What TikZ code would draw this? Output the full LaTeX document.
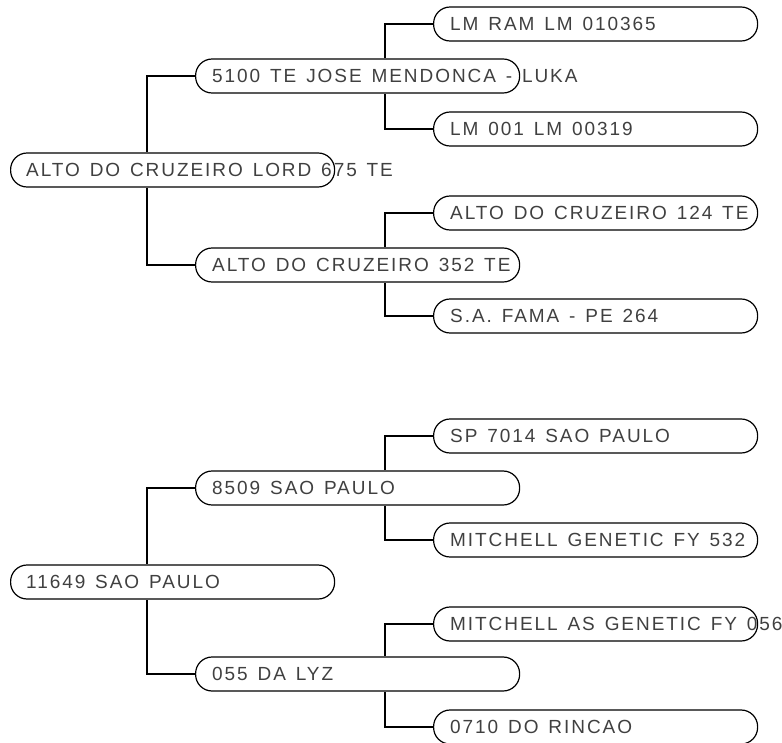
\documentclass[tikz,border=0pt]{standalone}
\usepackage{fontspec}
\newfontfamily\lblfont[LetterSpace=10.2,WordSpace=1.37]{Liberation Sans}
\usetikzlibrary{calc}
\definecolor{txtgray}{HTML}{404040}
\begin{document}
\begin{tikzpicture}[x=1pt,y=-1pt,
  pill/.style={draw=black, line width=1.2pt, rounded corners=16.5pt, minimum width=324pt, minimum height=34pt, inner sep=0pt, anchor=west},
  lbl/.style={anchor=base west, inner sep=0pt, text=txtgray, font=\lblfont\fontsize{19}{21}\selectfont},
  link/.style={draw=black, line width=1.2pt}]
\useasboundingbox (0,0) rectangle (782,742);
% ---------- top tree ----------
\node[pill] (R1) at (10,170) {};
\node[pill] (A)  at (195,76) {};
\node[pill] (B)  at (195,265) {};
\node[pill] (A1) at (433,24) {};
\node[pill] (A2) at (433,129) {};
\node[pill] (B1) at (433,213) {};
\node[pill] (B2) at (433,316) {};
\node[lbl] (R1t) at ($(R1.west)+(16,6.8)$) {ALTO DO CRUZEIRO LORD 675 TE};
\node[lbl] (At)  at ($(A.west)+(17,6.8)$) {5100 TE JOSE MENDONCA - LUKA};
\node[lbl] (Bt)  at ($(B.west)+(17,6.8)$) {ALTO DO CRUZEIRO 352 TE};
\node[lbl] (A1t) at ($(A1.west)+(17,6.8)$) {LM RAM LM 010365};
\node[lbl] (A2t) at ($(A2.west)+(17,6.8)$) {LM 001 LM 00319};
\node[lbl] (B1t) at ($(B1.west)+(17,6.8)$) {ALTO DO CRUZEIRO 124 TE};
\node[lbl] (B2t) at ($(B2.west)+(17,6.8)$) {S.A. FAMA - PE 264};
\coordinate (tx1) at (147,0);
\coordinate (tx2) at (385,0);
\draw[link] (A.west) -| (tx1 |- R1.north);
\draw[link] (B.west) -| (tx1 |- R1.south);
\draw[link] (A1.west) -| (tx2 |- A.north);
\draw[link] (A2.west) -| (tx2 |- A.south);
\draw[link] (B1.west) -| (tx2 |- B.north);
\draw[link] (B2.west) -| (tx2 |- B.south);
% ---------- bottom tree ----------
\node[pill] (R2) at (10,582) {};
\node[pill] (C)  at (195,488) {};
\node[pill] (D)  at (195,674) {};
\node[pill] (C1) at (433,436) {};
\node[pill] (C2) at (433,540) {};
\node[pill] (D1) at (433,624) {};
\node[pill] (D2) at (433,727) {};
\node[lbl] (R2t) at ($(R2.west)+(16,6.8)$) {11649 SAO PAULO};
\node[lbl] (Ct)  at ($(C.west)+(17,6.8)$) {8509 SAO PAULO};
\node[lbl] (Dt)  at ($(D.west)+(17,6.8)$) {055 DA LYZ};
\node[lbl] (C1t) at ($(C1.west)+(17,6.8)$) {SP 7014 SAO PAULO};
\node[lbl] (C2t) at ($(C2.west)+(17,6.8)$) {MITCHELL GENETIC FY 532};
\node[lbl] (D1t) at ($(D1.west)+(17,6.8)$) {MITCHELL AS GENETIC FY 056};
\node[lbl] (D2t) at ($(D2.west)+(17,6.8)$) {0710 DO RINCAO};
\draw[link] (C.west) -| (tx1 |- R2.north);
\draw[link] (D.west) -| (tx1 |- R2.south);
\draw[link] (C1.west) -| (tx2 |- C.north);
\draw[link] (C2.west) -| (tx2 |- C.south);
\draw[link] (D1.west) -| (tx2 |- D.north);
\draw[link] (D2.west) -| (tx2 |- D.south);
\end{tikzpicture}
\end{document}
